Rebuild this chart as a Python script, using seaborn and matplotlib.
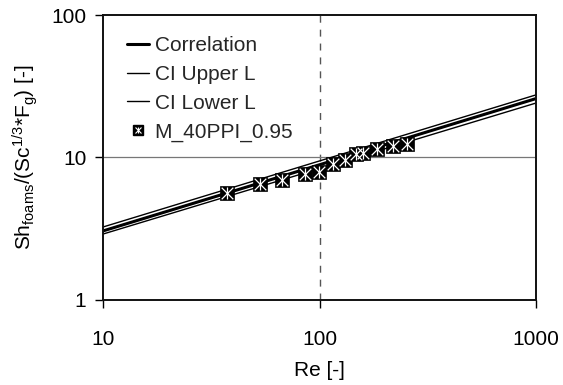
import numpy as np
import pandas as pd
import matplotlib
matplotlib.use("Agg")
import matplotlib.pyplot as plt
from matplotlib.lines import Line2D
from matplotlib.ticker import FixedLocator, FixedFormatter, NullLocator
import seaborn as sns

# Correlation and confidence-interval lines (straight on log-log axes)
re_line = [10, 1000]
sh_corr = [3.05, 25.9]
sh_ci_upper = [3.25, 27.5]
sh_ci_lower = [2.9, 24.1]

# Measured points, M_40PPI_0.95
re_meas = [37.3, 53.1, 67.1, 85.7, 99.5, 115.8, 131.2, 147.5, 158.8, 184.4, 218.6, 253.7]
sh_meas = [5.61, 6.52, 6.90, 7.66, 7.91, 9.00, 9.53, 10.58, 10.75, 11.38, 11.95, 12.34]

x_ticks = [10, 100, 1000]
x_tick_labels = ["10", "100", "1000"]
y_ticks = [1, 10, 100]
y_tick_labels = ["1", "10", "100"]

sns.set_theme(style="white")
plt.rcParams["font.family"] = ["Liberation Sans", "DejaVu Sans"]
plt.rcParams["mathtext.fontset"] = "custom"
plt.rcParams["mathtext.rm"] = "Liberation Sans"
plt.rcParams["mathtext.it"] = "Liberation Sans"

lines_df = pd.DataFrame({"Re": re_line * 3,
                         "Sh": sh_corr + sh_ci_upper + sh_ci_lower,
                         "series": ["Correlation"] * 2 + ["CI Upper L"] * 2 + ["CI Lower L"] * 2})
meas_df = pd.DataFrame({"Re": re_meas, "Sh": sh_meas})

fig = plt.figure(figsize=(5.63, 3.85), dpi=100)
ax = fig.add_axes([0.183, 0.221, 0.769, 0.740])
ax.set_xscale("log")
ax.set_yscale("log")

# reference lines at Re = 100 and Sh = 10
ax.axvline(100, color="#555555", lw=1.0, ls=(0, (5, 5)), zorder=1)
ax.axhline(10, color="#777777", lw=0.9, zorder=1)

widths = {"Correlation": 2.2, "CI Upper L": 1.0, "CI Lower L": 1.0}
for name, lw in widths.items():
    sns.lineplot(data=lines_df[lines_df["series"] == name], x="Re", y="Sh",
                 color="black", lw=lw, ax=ax, legend=False, zorder=2)

# square markers with a white asterisk inside
sns.scatterplot(data=meas_df, x="Re", y="Sh", marker="s", s=105, color="black",
                edgecolor="black", linewidth=0.5, ax=ax, legend=False, zorder=3)
sns.scatterplot(data=meas_df, x="Re", y="Sh", marker="x", s=70, color="white",
                linewidth=0.9, ax=ax, legend=False, zorder=4)
sns.scatterplot(data=meas_df, x="Re", y="Sh", marker="|", s=80, color="white",
                linewidth=0.9, ax=ax, legend=False, zorder=4)

ax.set_xlim(10, 1000)
ax.set_ylim(1, 100)
ax.xaxis.set_major_locator(FixedLocator(x_ticks))
ax.xaxis.set_major_formatter(FixedFormatter(x_tick_labels))
ax.yaxis.set_major_locator(FixedLocator(y_ticks))
ax.yaxis.set_major_formatter(FixedFormatter(y_tick_labels))
ax.xaxis.set_minor_locator(NullLocator())
ax.yaxis.set_minor_locator(NullLocator())
ax.tick_params(axis="both", which="major", direction="out", length=6, width=1.0,
               color="black", labelsize=15, labelcolor="black", pad=6,
               bottom=True, left=True)
ax.tick_params(axis="x", pad=16)

for side in ["left", "bottom", "top", "right"]:
    ax.spines[side].set_visible(True)
    ax.spines[side].set_color("#111111")
    ax.spines[side].set_linewidth(1.4)

ax.set_xlabel("Re [-]", fontsize=15, color="black", labelpad=8)
ax.set_ylabel(r"$\mathregular{Sh_{foams}/(Sc^{1/3}{*}F_g)}$ [-]", fontsize=15,
              color="black", labelpad=8)

handles = [
    Line2D([], [], color="black", lw=2.2),
    Line2D([], [], color="black", lw=1.0),
    Line2D([], [], color="black", lw=1.0),
    (Line2D([], [], ls="none", marker="s", markersize=7, color="black"),
     Line2D([], [], ls="none", marker="x", markersize=5, color="white", mew=0.8),
     Line2D([], [], ls="none", marker="|", markersize=5, color="white", mew=0.8)),
]
labels = ["Correlation", "CI Upper L", "CI Lower L", "M_40PPI_0.95"]
ax.legend(handles, labels, loc="upper left", bbox_to_anchor=(0.035, 0.955),
          frameon=False, fontsize=15, handlelength=1.1, handletextpad=0.25,
          labelspacing=0.47, borderaxespad=0.0)

fig.savefig("out.png", dpi=100)
